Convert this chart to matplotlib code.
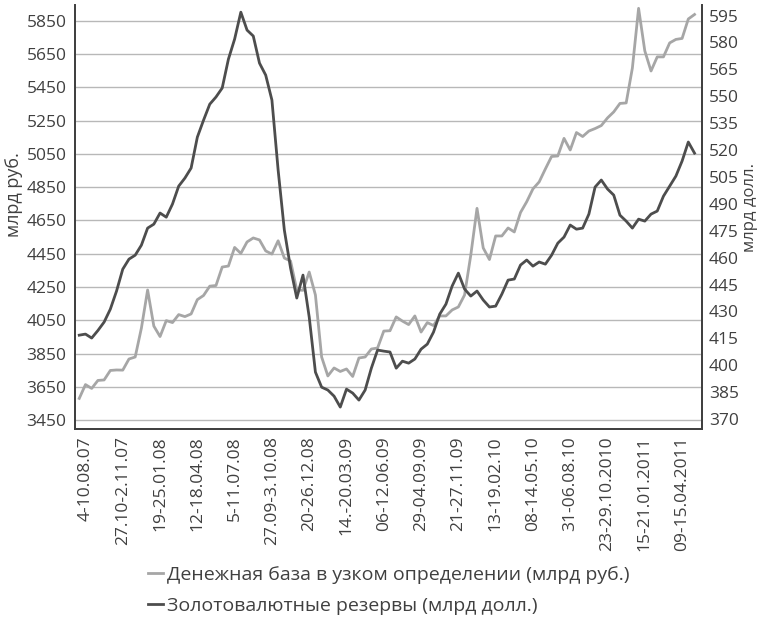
import numpy as np
import matplotlib.pyplot as plt

plt.rcParams['font.family'] = ['Open Sans', 'DejaVu Sans']

weeks = np.arange(0, 200, 2)

money_base = [3580, 3663, 3640, 3688, 3691, 3748, 3751, 3750, 3817, 3829,
              4003, 4232, 4015, 3952, 4048, 4036, 4084, 4072, 4088, 4174,
              4199, 4255, 4259, 4370, 4376, 4488, 4452, 4521, 4545, 4533,
              4467, 4448, 4528, 4424, 4406, 4232, 4230, 4340, 4202, 3829,
              3715, 3763, 3742, 3757, 3712, 3823, 3829, 3877, 3883, 3985,
              3987, 4070, 4045, 4024, 4076, 3979, 4036, 4018, 4076, 4076,
              4112, 4130, 4202, 4442, 4723, 4485, 4415, 4557, 4557, 4605,
              4581, 4698, 4763, 4840, 4882, 4960, 5035, 5038, 5144, 5074,
              5179, 5155, 5188, 5203, 5221, 5267, 5303, 5354, 5357, 5567,
              5926, 5670, 5549, 5634, 5634, 5718, 5739, 5745, 5862, 5889]

reserves = [416.8, 417.4, 415.2, 419.4, 424.1, 431.3, 441.4, 453.6, 459.2, 461.4,
            467.0, 476.5, 478.7, 484.9, 482.6, 489.9, 499.9, 504.4, 510.0, 527.2,
            536.7, 545.6, 549.6, 554.6, 570.7, 581.9, 596.9, 586.9, 583.6, 568.5,
            561.8, 547.9, 508.9, 475.4, 454.2, 437.5, 450.3, 426.9, 396.2, 387.8,
            386.2, 382.8, 376.7, 386.7, 384.5, 380.6, 386.2, 398.4, 408.5, 407.9,
            407.4, 398.4, 402.3, 401.2, 403.5, 409.0, 411.8, 418.5, 428.5, 434.1,
            444.2, 451.4, 442.5, 438.6, 441.4, 436.4, 432.5, 433.0, 439.7, 447.5,
            448.1, 455.9, 458.7, 455.3, 457.6, 456.4, 461.4, 468.1, 471.5, 478.2,
            475.9, 476.5, 484.3, 499.4, 503.3, 498.3, 494.9, 483.7, 480.4, 476.5,
            481.5, 480.4, 484.3, 486.0, 494.3, 499.9, 505.5, 513.9, 524.5, 518.3]

tick_pos = list(range(2, 195, 12))
tick_labels = ['4-10.08.07', '27.10-2.11.07', '19-25.01.08', '12-18.04.08',
               '5-11.07.08', '27.09-3.10.08', '20-26.12.08', '14.-20.03.09',
               '06-12.06.09', '29-04.09.09', '21-27.11.09', '13-19.02.10',
               '08-14.05.10', '31-06.08.10', '23-29.10.2010', '15-21.01.2011',
               '09-15.04.2011']

left_ticks = list(range(3450, 5851, 200))
right_ticks = list(range(370, 596, 15))

txt = '#404040'
light = '#a6a6a6'
dark = '#4d4d4d'

fig = plt.figure(figsize=(7.58, 6.18), dpi=100)
ax = fig.add_axes([0.0989, 0.3053, 0.8272, 0.6866])
ax2 = ax.twinx()

l1, = ax.plot(weeks, money_base, color=light, lw=2.0, solid_joinstyle='round')
l2, = ax2.plot(weeks, reserves, color=dark, lw=2.0, solid_joinstyle='round')

ax.set_xlim(-1.38, 200.4)
ax.set_ylim(3394, 5946)
ax2.set_ylim(364.3, 600.9)

ax.set_yticks(left_ticks)
ax2.set_yticks(right_ticks)
ax.set_xticks(tick_pos)
ax.set_xticklabels(tick_labels, rotation=90)

ax.grid(axis='y', color='#b8b8b8', lw=1.0)
ax.set_axisbelow(True)

for a in (ax, ax2):
    a.spines['top'].set_visible(False)
    for s in ('left', 'right', 'bottom'):
        a.spines[s].set_color('#404040')
        a.spines[s].set_linewidth(1.3)
    a.tick_params(length=0, colors=txt, labelsize=12.5)
ax.tick_params(axis='y', pad=6)
ax.tick_params(axis='x', pad=5)
ax2.tick_params(axis='y', pad=5)

fig.text(14 / 758, 1 - 195 / 618, 'млрд руб.', rotation=90, color=txt,
         fontsize=13, ha='center', va='center')
fig.text(750 / 758, 1 - 207 / 618, 'млрд долл.', rotation=90, color=txt,
         fontsize=12, ha='center', va='center')

fig.legend([l1, l2],
           ['Денежная база в узком определении (млрд руб.)',
            'Золотовалютные резервы (млрд долл.)'],
           loc='upper left', bbox_to_anchor=(130 / 758, 1 - 548 / 618),
           frameon=False, fontsize=14, labelcolor=txt,
           handlelength=0.8, handletextpad=0.2, labelspacing=0.7)

fig.savefig('out.png', dpi=100)
